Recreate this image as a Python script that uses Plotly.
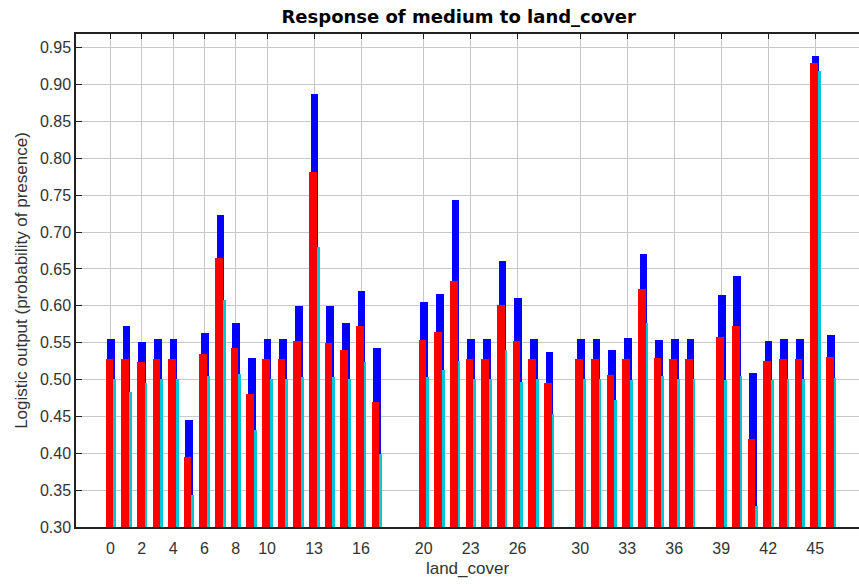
import plotly.graph_objects as go

categories = [0, 1, 2, 3, 4, 5, 6, 7, 8, 9, 10, 11, 12, 13, 14, 15, 16, 17,
              20, 21, 22, 23, 24, 25, 26, 27, 28,
              30, 31, 32, 33, 34, 35, 36, 37,
              39, 40, 41, 42, 43, 44, 45, 46]

# mean response (red)
red_vals = [0.5276, 0.5278, 0.5238, 0.5276, 0.5276, 0.3945, 0.5342, 0.6652, 0.5423, 0.4804,
            0.5276, 0.5276, 0.5522, 0.7818, 0.5500, 0.5400, 0.5730, 0.4700,
            0.5540, 0.5645, 0.6340, 0.5276, 0.5276, 0.6010, 0.5518, 0.5276, 0.4949,
            0.5276, 0.5276, 0.5066, 0.5276, 0.6223, 0.5296, 0.5276, 0.5276,
            0.5581, 0.5726, 0.4190, 0.5251, 0.5276, 0.5276, 0.9288, 0.5310]
# mean + one standard deviation (blue)
blue_vals = [0.5545, 0.5730, 0.5510, 0.5545, 0.5545, 0.4455, 0.5627, 0.7227, 0.5770, 0.5296,
             0.5545, 0.5545, 0.5997, 0.8868, 0.5997, 0.5770, 0.6200, 0.5423,
             0.6055, 0.6160, 0.7436, 0.5545, 0.5545, 0.6607, 0.6105, 0.5545, 0.5377,
             0.5545, 0.5545, 0.5396, 0.5559, 0.6698, 0.5536, 0.5545, 0.5545,
             0.6140, 0.6410, 0.5093, 0.5518, 0.5545, 0.5545, 0.9387, 0.5604]
# mean - one standard deviation (cyan)
cyan_vals = [0.5005, 0.4827, 0.4949, 0.5005, 0.5005, 0.3430, 0.5048, 0.6078, 0.5071, 0.4315,
             0.5005, 0.5005, 0.5030, 0.6793, 0.5030, 0.5003, 0.5238, 0.3986,
             0.5030, 0.5129, 0.5255, 0.5005, 0.5005, 0.5400, 0.4966, 0.5005, 0.4532,
             0.5005, 0.5005, 0.4720, 0.4998, 0.5770, 0.5048, 0.5005, 0.5005,
             0.5000, 0.5048, 0.3285, 0.4998, 0.5005, 0.5005, 0.9180, 0.5021]

x_tick_vals = [0, 2, 4, 6, 8, 10, 13, 16, 20, 23, 26, 30, 33, 36, 39, 42, 45]
y_tick_vals = [0.30, 0.35, 0.40, 0.45, 0.50, 0.55, 0.60, 0.65, 0.70, 0.75, 0.80, 0.85, 0.90, 0.95]

BAR_W = 0.49
XRANGE = [-2.2, 47.8]
YRANGE = [0.30, 0.9686]

fig = go.Figure()
fig.add_trace(go.Bar(x=categories, y=blue_vals, width=BAR_W, offset=-0.215,
                     marker=dict(color="#0000ff", line=dict(width=0)), showlegend=False))
fig.add_trace(go.Bar(x=categories, y=cyan_vals, width=BAR_W, offset=-0.14,
                     marker=dict(color="#00c8d2", line=dict(width=0)), showlegend=False))
fig.add_trace(go.Bar(x=categories, y=red_vals, width=BAR_W, offset=-0.315,
                     marker=dict(color="#ff0000", line=dict(width=0)), showlegend=False))
# invisible trace to anchor the top axis
fig.add_trace(go.Scatter(x=[0], y=[0.3], xaxis="x2", mode="markers",
                         marker=dict(opacity=0), showlegend=False, hoverinfo="skip"))

tick_font = dict(family="Liberation Sans, Arial, sans-serif", size=16, color="#333333")

fig.update_layout(
    width=859, height=584,
    margin=dict(l=76, r=0, t=34, b=57),
    paper_bgcolor="white", plot_bgcolor="white",
    barmode="overlay", bargap=0,
    title=dict(text="<b>Response of medium to land_cover</b>",
               font=dict(family="DejaVu Sans, sans-serif", size=18, color="#000000"),
               x=0.534, xanchor="center", y=0.971, yanchor="middle"),
    xaxis=dict(range=XRANGE, tickmode="array", tickvals=x_tick_vals,
               ticktext=[str(v) for v in x_tick_vals], ticks="",
               showgrid=True, gridcolor="#c8c8c8", gridwidth=1.2,
               showline=True, linecolor="#222222", linewidth=2,
               zeroline=False, tickfont=tick_font, ticklabelstandoff=6,
               title=dict(text="land_cover", font=dict(family="Liberation Sans, Arial, sans-serif",
                                                      size=17, color="#333333"), standoff=6)),
    xaxis2=dict(range=XRANGE, overlaying="x", side="top", anchor="y",
                tickmode="array", tickvals=x_tick_vals, ticks="inside", ticklen=5,
                tickcolor="#222222", tickwidth=1.2, showticklabels=False,
                showgrid=False, showline=True, linecolor="#222222", linewidth=1.5,
                zeroline=False),
    yaxis=dict(range=YRANGE, tickmode="array", tickvals=y_tick_vals,
               ticktext=["%.2f" % v for v in y_tick_vals],
               ticks="inside", ticklen=6, tickcolor="#222222", tickwidth=1.2,
               showgrid=True, gridcolor="#c8c8c8", gridwidth=1.2,
               showline=True, linecolor="#222222", linewidth=1.5,
               zeroline=False, tickfont=tick_font,
               title=dict(text="Logistic output (probability of presence)",
                          font=dict(family="Liberation Sans, Arial, sans-serif", size=17,
                                    color="#333333"), standoff=8)),
)

fig.write_html("out.html")
